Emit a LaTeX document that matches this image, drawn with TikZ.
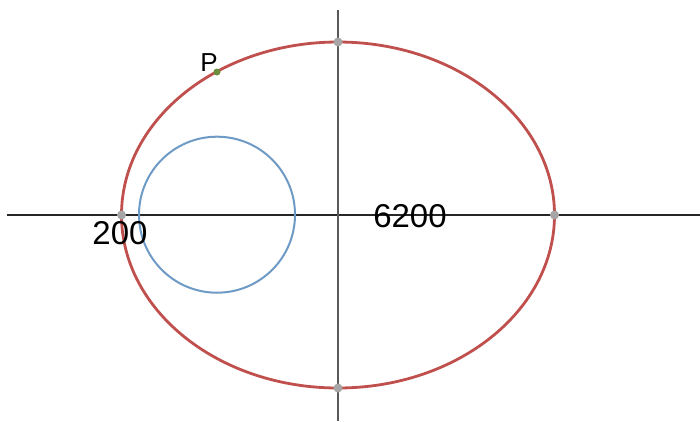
\documentclass[tikz,border=0pt]{standalone}
\usepackage{fontspec}
\setmainfont{Liberation Sans}
\definecolor{ellred}{HTML}{C0504D}
\definecolor{circblue}{HTML}{6E9AC6}
\definecolor{dotgray}{HTML}{A6A6A6}
\definecolor{pgreen}{HTML}{6B8E3E}
\begin{document}
\begin{tikzpicture}[x=1pt,y=-1pt,
  axis/.style={line width=1.3pt,draw=black!85},
  vaxis/.style={line width=1.3pt,draw=black!65},
  vtx/.style={circle,fill=dotgray,inner sep=0pt,minimum size=9pt},
  pdot/.style={circle,fill=pgreen,inner sep=0pt,minimum size=7pt},
  lbl/.style={font=\fontsize{33}{33}\selectfont,inner sep=0pt}]
\useasboundingbox (0,0) rectangle (700,421);
% axes
\coordinate (xl) at (7,215);
\coordinate (xr) at (700,215);
\coordinate (yt) at (338,10);
\coordinate (yb) at (338,421);
\draw[axis] (xl) -- (xr);
\draw[vaxis] (yt) -- (yb);
% circle
\draw[circblue,line width=2pt] (217,214.7) circle [radius=78];
% ellipse
\draw[ellred,line width=2.8pt] (338,215) ellipse [x radius=216.5, y radius=173];
% vertices
\node[vtx] (vl) at (121.5,215) {};
\node[vtx] (vr) at (554.5,215) {};
\node[vtx] (vt) at (338,42) {};
\node[vtx] (vb) at (338,388) {};
\node[pdot] (p) at (217,72) {};
% labels
\node[lbl] (l200) at (120,233) {200};
\node[lbl] (l6200) at (410,216) {6200};
\node[font=\fontsize{26}{26}\selectfont,inner sep=0pt] (lp) at (209,63) {P};
\end{tikzpicture}
\end{document}
